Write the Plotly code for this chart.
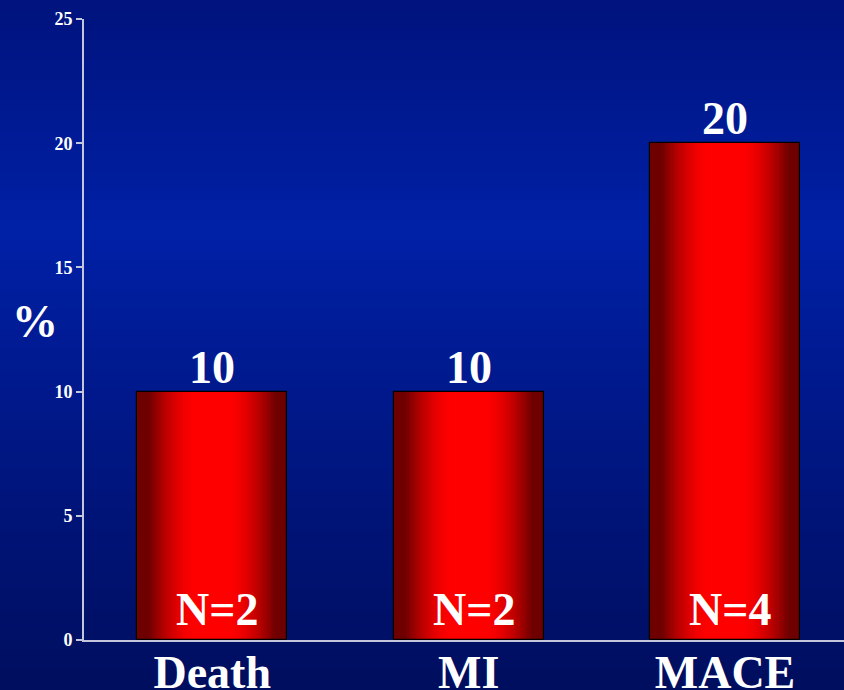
import plotly.graph_objects as go

categories = ["Death", "MI", "MACE"]
values = [10, 10, 20]
n_labels = ["N=2", "N=2", "N=4"]
y_ticks = [0, 5, 10, 15, 20, 25]

W, H = 844, 690
ml, mr, mt, mb = 84, 0, 19, 50
ph = H - mt - mb

FONT = "Liberation Serif"
WHITE = "white"
AXIS = "#c4c6dc"

fig = go.Figure()

# background vertical gradient (strips in paper coords covering whole figure)
def bg_color(yp):
    stops = [(0, (0, 19, 125)), (230, (0, 32, 166)), (450, (0, 22, 130)), (690, (0, 14, 94))]
    for (y0, c0), (y1, c1) in zip(stops[:-1], stops[1:]):
        if y0 <= yp <= y1:
            t = (yp - y0) / (y1 - y0)
            return tuple(int(round(a + (b - a) * t)) for a, b in zip(c0, c1))
    return stops[-1][1]

shapes = []
n_strips = 69
for i in range(n_strips):
    top = H * i / n_strips
    bot = H * (i + 1) / n_strips
    c = bg_color((top + bot) / 2)
    shapes.append(dict(
        type="rect", xref="paper", yref="paper", layer="below",
        x0=-ml / (W - ml - mr), x1=1.01,
        y0=1 - (bot + 0.6 - mt) / ph, y1=1 - (top - mt) / ph,
        fillcolor=f"rgb{c}", line=dict(width=0)))

# bars with horizontal gradient via overlaid narrowing bars
bar_width = 0.585
layers = 60
for i in range(layers):
    d = 1 - i / layers
    if d <= 0.24:
        r = 255
    elif d >= 0.86:
        r = 110
    else:
        t = (d - 0.24) / 0.62
        r = 255 - 145 * t ** 1.6
    fig.add_trace(go.Bar(
        x=categories, y=values, width=bar_width * d,
        marker=dict(color=f"rgb({int(r)},0,0)", line=dict(width=0)),
        hoverinfo="skip", showlegend=False))
fig.add_trace(go.Bar(
    x=categories, y=values, width=bar_width,
    marker=dict(color="rgba(0,0,0,0)", line=dict(color="black", width=1.2)),
    hoverinfo="skip", showlegend=False))

annotations = []
for cat, v in zip(categories, values):
    annotations.append(dict(x=cat, y=v, text=str(v), showarrow=False,
                            xanchor="center", yanchor="bottom", yshift=-3,
                            font=dict(family=FONT, size=46, color=WHITE, weight="bold")))
for cat, n in zip(categories, n_labels):
    annotations.append(dict(x=cat, y=0, text=n, showarrow=False,
                            xanchor="center", yanchor="bottom", xshift=5, yshift=3,
                            font=dict(family=FONT, size=46, color=WHITE, weight="bold")))
annotations.append(dict(x=(35 - ml) / (W - ml - mr), y=(H - mb - 322) / ph,
                        xref="paper", yref="paper", text="%", showarrow=False,
                        xanchor="center", yanchor="middle",
                        font=dict(family=FONT, size=46, color=WHITE, weight="bold")))

fig.update_layout(
    width=W, height=H,
    margin=dict(l=ml, r=mr, t=mt, b=mb),
    paper_bgcolor="#00115e", plot_bgcolor="rgba(0,0,0,0)",
    barmode="overlay", bargap=0,
    shapes=shapes, annotations=annotations,
    showlegend=False,
    xaxis=dict(range=[-0.5, 2.464], showline=True, linecolor=AXIS, linewidth=2,
               ticks="", showgrid=False, zeroline=False, automargin=False,
               ticklabelstandoff=-9,
               tickfont=dict(family=FONT, size=46, color=WHITE, weight="bold")),
    yaxis=dict(range=[0, 25], tickvals=y_ticks, showline=True, linecolor=AXIS, linewidth=2,
               ticks="outside", ticklen=6, tickcolor=AXIS, tickwidth=1.5,
               showgrid=False, zeroline=False, automargin=False,
               tickfont=dict(family=FONT, size=18, color=WHITE, weight="bold")),
)

fig.write_html("out.html")
